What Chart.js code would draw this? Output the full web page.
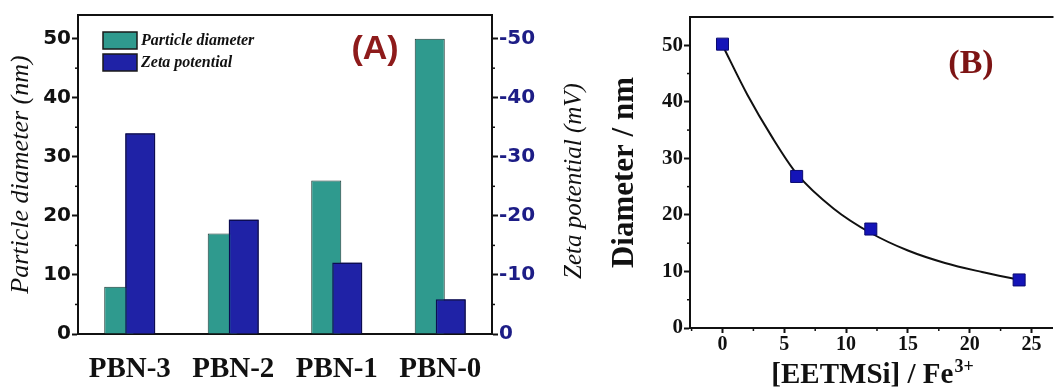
<!DOCTYPE html>
<html>
<head>
<meta charset="utf-8">
<script src="https://cdn.jsdelivr.net/npm/chart.js@4.4.1/dist/chart.umd.min.js"></script>
<style>
  body { margin: 0; background: #fff; }
  #wrap { position: relative; width: 1062px; height: 387px; overflow: hidden; }
  canvas { position: absolute; top: 0; }
</style>
</head>
<body>
<div id="wrap">
  <canvas id="chartA" width="590" height="387" style="left:0"></canvas>
  <canvas id="chartB" width="472" height="387" style="left:590px"></canvas>
</div>
<script>
// panel A
const samples = ["PBN-3", "PBN-2", "PBN-1", "PBN-0"];
const particleDiameter = [8, 17, 26, 50];
const zetaPotential = [-34, -19.4, -12.1, -5.9];

// panel B
const ratio = [0, 6, 12, 24];
const diameter = [50.2, 26.8, 17.5, 8.5];
// fitted curve
const fitX = [0, 2, 4, 6, 9, 12, 15, 18, 21, 24];
const fitY = [50, 41.3, 33.8, 27.3, 21.1, 16.8, 13.7, 11.5, 9.9, 8.5];

const teal = "#2f9a8e";
const blue = "#1f22a6";
const ink = "#111";

// short unlabeled ticks between the major ones
const minorTicks = {
  id: "minorTicks",
  afterDraw(chart, args, opts) {
    const ctx = chart.ctx;
    ctx.save();
    ctx.strokeStyle = ink;
    ctx.lineWidth = 1.5;
    (opts.list || []).forEach(m => {
      const s = chart.scales[m.id];
      for (let v = m.from; v <= m.to + 1e-9; v += m.step) {
        const p = s.getPixelForValue(v);
        ctx.beginPath();
        if (s.isHorizontal()) {
          ctx.moveTo(p, s.top); ctx.lineTo(p, s.top + m.len);
        } else if (s.position === "left") {
          ctx.moveTo(s.right, p); ctx.lineTo(s.right - m.len, p);
        } else {
          ctx.moveTo(s.left, p); ctx.lineTo(s.left + m.len, p);
        }
        ctx.stroke();
      }
    });
    ctx.restore();
  }
};

// top line of the frame
const topFrame = {
  id: "topFrame",
  afterDraw(chart) {
    const { ctx, chartArea: a } = chart;
    ctx.save();
    ctx.strokeStyle = ink;
    ctx.lineWidth = 2;
    ctx.beginPath();
    ctx.moveTo(a.left - 1, a.top);
    ctx.lineTo(a.right + 1, a.top);
    ctx.stroke();
    ctx.restore();
  }
};

// zeta bars go in front of the diameter bars
const zetaOnTop = {
  id: "zetaOnTop",
  afterDatasetsDraw(chart) {
    chart.getDatasetMeta(1).controller.draw();
  }
};

const panelTextA = {
  id: "panelTextA",
  afterDraw(chart) {
    const ctx = chart.ctx;
    ctx.save();
    // legend
    const items = [["Particle diameter", teal, 32], ["Zeta potential", blue, 54]];
    items.forEach(([txt, col, y]) => {
      ctx.fillStyle = col;
      ctx.fillRect(103, y, 34, 17);
      ctx.strokeStyle = "#1a1a1a";
      ctx.lineWidth = 1.5;
      ctx.strokeRect(103, y, 34, 17);
      ctx.fillStyle = ink;
      ctx.font = 'italic bold 16px "Liberation Serif"';
      ctx.textBaseline = "middle";
      ctx.textAlign = "left";
      ctx.fillText(txt, 141, y + 9);
    });
    // panel label
    ctx.fillStyle = "#8e1b1b";
    ctx.font = 'bold 34px "Liberation Sans"';
    ctx.textAlign = "center";
    ctx.fillText("(A)", 375, 50);
    // right axis title, reads bottom to top
    ctx.translate(574, 181);
    ctx.rotate(-Math.PI / 2);
    ctx.fillStyle = ink;
    ctx.font = 'italic 25px "Liberation Serif"';
    ctx.fillText("Zeta potential (mV)", 0, 0);
    ctx.restore();
  }
};

const panelTextB = {
  id: "panelTextB",
  afterDraw(chart) {
    const ctx = chart.ctx;
    ctx.save();
    ctx.fillStyle = "#7d1414";
    ctx.font = 'bold 34px "Liberation Serif"';
    ctx.textAlign = "center";
    ctx.textBaseline = "middle";
    ctx.fillText("(B)", 381, 64);
    // x axis title with superscript
    ctx.fillStyle = ink;
    ctx.textAlign = "left";
    ctx.textBaseline = "alphabetic";
    const main = "[EETMSi] / Fe", sup = "3+";
    ctx.font = 'bold 29px "Liberation Serif"';
    const w1 = ctx.measureText(main).width;
    ctx.font = 'bold 18px "Liberation Serif"';
    const w2 = ctx.measureText(sup).width;
    const x0 = 282 - (w1 + w2) / 2;
    ctx.font = 'bold 29px "Liberation Serif"';
    ctx.fillText(main, x0, 383);
    ctx.font = 'bold 18px "Liberation Serif"';
    ctx.fillText(sup, x0 + w1 + 1, 372);
    ctx.restore();
  }
};

new Chart(document.getElementById("chartA"), {
  type: "bar",
  data: {
    labels: samples,
    datasets: [
      {
        label: "Particle diameter",
        data: particleDiameter,
        yAxisID: "y",
        backgroundColor: teal,
        borderColor: "#1c3a36",
        borderWidth: 1,
        categoryPercentage: 0.406,
        barPercentage: 1.43,
      },
      {
        label: "Zeta potential",
        data: zetaPotential,
        yAxisID: "y2",
        backgroundColor: blue,
        borderColor: "#0c0c52",
        borderWidth: 1.5,
        categoryPercentage: 0.406,
        barPercentage: 1.43,
      },
    ],
  },
  options: {
    responsive: false,
    animation: false,
    layout: { padding: { top: 15 } },
    plugins: {
      legend: { display: false },
      tooltip: { enabled: false },
      minorTicks: {
        list: [
          { id: "y", from: 5, to: 45, step: 10, len: 3 },
          { id: "y2", from: -45, to: -5, step: 10, len: 3 },
        ],
      },
    },
    scales: {
      x: {
        grid: { display: false, drawTicks: false },
        border: { display: true, color: ink, width: 2 },
        ticks: { font: { family: "Liberation Serif", size: 29, weight: "bold" }, color: ink, padding: 18 },
        afterFit(s) { s.height = 53; },
      },
      y: {
        position: "left",
        min: 0,
        max: 54,
        ticks: {
          stepSize: 10,
          includeBounds: false,
          font: { family: "DejaVu Sans", size: 20, weight: "bold" },
          color: ink,
          padding: 1,
        },
        grid: { drawOnChartArea: false, tickLength: 6, tickColor: ink, tickWidth: 2 },
        border: { color: ink, width: 2 },
        title: {
          display: true,
          text: "Particle diameter (nm)",
          font: { family: "Liberation Serif", size: 26, style: "italic" },
          color: ink,
          padding: { top: 6, bottom: 0 },
        },
        afterFit(s) { s.width = 78; },
      },
      y2: {
        position: "right",
        min: -54,
        max: 0,
        reverse: true,
        ticks: {
          stepSize: 10,
          includeBounds: false,
          font: { family: "DejaVu Sans", size: 20, weight: "bold" },
          color: "#1d1d86",
          padding: 1,
        },
        grid: { drawOnChartArea: false, tickLength: 6, tickColor: ink, tickWidth: 2 },
        border: { color: ink, width: 2 },
        afterFit(s) { s.width = 98; },
      },
    },
  },
  plugins: [zetaOnTop, minorTicks, topFrame, panelTextA],
});

new Chart(document.getElementById("chartB"), {
  type: "scatter",
  data: {
    datasets: [
      {
        type: "line",
        label: "fit",
        data: fitX.map((x, i) => ({ x, y: fitY[i] })),
        borderColor: ink,
        borderWidth: 2,
        pointRadius: 0,
        cubicInterpolationMode: "monotone",
        fill: false,
        order: 1,
      },
      {
        label: "Diameter",
        data: ratio.map((x, i) => ({ x, y: diameter[i] })),
        pointStyle: "rect",
        pointRadius: 8.5,
        backgroundColor: "#1414b8",
        borderColor: "#0a0a70",
        borderWidth: 1,
        order: 0,
      },
    ],
  },
  options: {
    responsive: false,
    animation: false,
    layout: { padding: { top: 17, right: 0 } },
    plugins: {
      legend: { display: false },
      tooltip: { enabled: false },
      minorTicks: {
        list: [
          { id: "x", from: -2.5, to: 25, step: 5, len: 3 },
          { id: "y", from: 5, to: 45, step: 10, len: 3 },
        ],
      },
    },
    scales: {
      x: {
        type: "linear",
        min: -2.63,
        max: 26.7,
        ticks: {
          stepSize: 5,
          includeBounds: false,
          font: { family: "Liberation Serif", size: 20, weight: "bold" },
          color: ink,
          padding: 0,
        },
        grid: { drawOnChartArea: false, tickLength: 5, tickColor: ink, tickWidth: 2 },
        border: { color: ink, width: 2 },
        afterFit(s) { s.height = 59; },
      },
      y: {
        min: 0,
        max: 55,
        ticks: {
          stepSize: 10,
          includeBounds: false,
          font: { family: "Liberation Serif", size: 21, weight: "bold" },
          color: ink,
          padding: 1,
        },
        grid: { drawOnChartArea: false, tickLength: 6, tickColor: ink, tickWidth: 2 },
        border: { color: ink, width: 2 },
        title: {
          display: true,
          text: "Diameter / nm",
          font: { family: "Liberation Serif", size: 31, weight: "bold" },
          color: ink,
          padding: { top: 16, bottom: 0 },
        },
        afterFit(s) { s.width = 100; },
      },
    },
  },
  plugins: [minorTicks, topFrame, panelTextB],
});
</script>
</body>
</html>
